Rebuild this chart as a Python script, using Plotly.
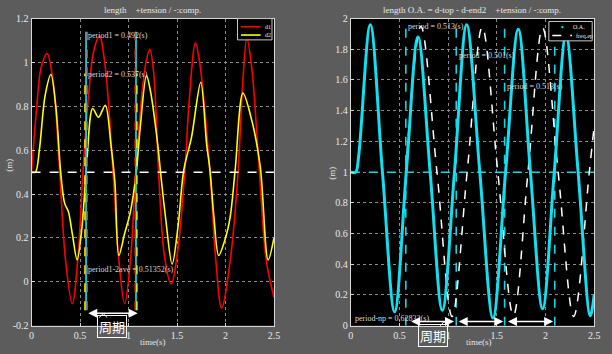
import plotly.graph_objects as go

W, H = 612, 354

# ---------------- data ----------------
# Left panel: d1 (red) and d2 (yellow)
d1_t = [0.00, 0.05, 0.10, 0.16, 0.22, 0.29, 0.35, 0.42, 0.48, 0.53, 0.59, 0.64, 0.70, 0.76, 0.84, 0.90,
        0.96, 1.02, 1.075, 1.13, 1.18, 1.22, 1.26, 1.31, 1.37, 1.44, 1.51, 1.58, 1.63, 1.69, 1.74, 1.84,
        1.90, 1.96, 2.05, 2.13, 2.18, 2.22, 2.27, 2.35, 2.42, 2.50]
d1_v = [0.50, 0.78, 0.98, 1.04, 0.92, 0.50, 0.10, -0.10, 0.12, 0.50, 0.86, 1.05, 1.12, 0.98, 0.50, 0.10,
        -0.10, 0.10, 0.50, 0.82, 1.00, 1.06, 0.95, 0.50, 0.12, -0.01, 0.15, 0.50, 0.85, 1.09, 0.98, 0.50,
        0.10, -0.12, 0.10, 0.50, 0.92, 1.11, 0.98, 0.50, 0.10, -0.07]

d2_t = [0.00, 0.04, 0.08, 0.14, 0.20, 0.25, 0.30, 0.34, 0.38, 0.42, 0.47, 0.52, 0.57, 0.63, 0.69, 0.76,
        0.82, 0.86, 0.90, 0.96, 1.02, 1.08, 1.12, 1.185, 1.23, 1.30, 1.33, 1.38, 1.45, 1.51, 1.57, 1.65,
        1.745, 1.805, 1.84, 1.88, 1.93, 2.00, 2.05, 2.10, 2.18, 2.28, 2.36, 2.44, 2.50]
d2_v = [0.50, 0.50, 0.60, 0.85, 0.945, 0.80, 0.50, 0.36, 0.32, 0.22, 0.10, 0.25, 0.55, 0.79, 0.75, 0.805,
        0.62, 0.45, 0.12, 0.22, 0.32, 0.50, 0.70, 0.94, 0.86, 0.63, 0.50, 0.30, 0.08, 0.25, 0.51, 0.66,
        0.91, 0.63, 0.51, 0.30, 0.12, 0.20, 0.30, 0.51, 0.86, 0.72, 0.52, 0.10, 0.20]

# period markers (left)
cyan_marks_l = [0.562, 1.077]
red_marks_l = [0.575, 1.068]
yellow_marks_l = [0.550, 1.087]

# Right panel: O.A. (cyan) and freq.ep (white dashed)
oa_t = [0.00, 0.05, 0.08, 0.20, 0.325, 0.45, 0.57, 0.69, 0.815, 0.94, 1.065, 1.19, 1.325, 1.46, 1.59,
        1.72, 1.845, 1.97, 2.09, 2.21, 2.335, 2.46, 2.50]
oa_v = [1.00, 1.00, 1.10, 1.96, 1.00, 0.09, 1.00, 1.88, 1.00, 0.10, 1.00, 1.96, 1.00, 0.05, 1.00,
        1.93, 1.00, 0.11, 1.00, 1.89, 1.00, 0.065, 0.20]

ep_t = [0.565, 0.72, 0.885, 1.04, 1.195, 1.35, 1.51, 1.67, 1.82, 1.97, 2.13, 2.29, 2.45, 2.50]
ep_v = [1.00, 1.95, 1.00, 0.06, 1.00, 1.945, 1.00, 0.065, 1.00, 1.94, 1.00, 0.06, 1.00, 1.30]

cyan_marks_r = [0.565, 1.083, 1.580, 2.095]

# ticks
x_ticks = [0, 0.5, 1, 1.5, 2, 2.5]
x_ticktext = ["0", "0.5", "1", "1.5", "2", "2.5"]
yl_ticks = [-0.2, 0, 0.2, 0.4, 0.6, 0.8, 1.0, 1.2]
yl_ticktext = ["-0.2", "0", "0.2", "0.4", "0.6", "0.8", "1", "1.2"]
yr_ticks = [0, 0.2, 0.4, 0.6, 0.8, 1.0, 1.2, 1.4, 1.6, 1.8, 2.0]
yr_ticktext = ["0", "0.2", "0.4", "0.6", "0.8", "1", "1.2", "1.4", "1.6", "1.8", "2"]

# texts
left_title = "length    +tension / -:comp."
right_title = "length O.A. = d-top - d-end2    +tension / -:comp."
left_texts = [(0.56, 1.125, "period1 = 0.492(s)"), (0.56, 0.944, "period2 = 0.537(s)"),
              (0.56, 0.056, "period1-2ave = 0.51352(s)")]
right_texts = [(0.57, 1.95, "period = 0.513(s)"), (1.088, 1.76, "period = 0.501(s)"),
               (1.585, 1.56, "period = 0.513(s)"), (0.02, 0.05, "period-np = 0.62832(s)")]
left_legend = ["d1", "d2"]
right_legend = ["O.A.", "freq.ep"]

# ---------------- helpers ----------------
def px(x):
    return x / W


def py(y):
    return 1 - y / H


SERIF = "Liberation Serif, Times New Roman, serif"
BG = "#5c5c5c"
TXT = "#e8e8e8"

fig = go.Figure()

# left traces
fig.add_trace(go.Scatter(x=d1_t, y=d1_v, mode="lines", line=dict(color="#ff0000", width=1.6, shape="spline"),
                         name=left_legend[0], xaxis="x", yaxis="y"))
fig.add_trace(go.Scatter(x=d2_t, y=d2_v, mode="lines",
                         line=dict(color="#ffff00", width=1.6, shape="spline", smoothing=0.9),
                         name=left_legend[1], xaxis="x", yaxis="y"))
fig.add_trace(go.Scatter(x=[0, 2.5], y=[0.5, 0.5], mode="lines", line=dict(color="white", width=1.5, dash="dash"),
                         xaxis="x", yaxis="y"))
for t in cyan_marks_l:
    fig.add_trace(go.Scatter(x=[t, t], y=[-0.13, 1.14], mode="lines", line=dict(color="#20c8d0", width=1.8),
                             xaxis="x", yaxis="y"))
for t in red_marks_l:
    fig.add_trace(go.Scatter(x=[t, t], y=[-0.13, 1.14], mode="lines",
                             line=dict(color="#ff2020", width=1.3, dash="dash"), xaxis="x", yaxis="y"))
for t in yellow_marks_l:
    fig.add_trace(go.Scatter(x=[t, t], y=[-0.13, 0.95], mode="lines",
                             line=dict(color="#ffff00", width=1.3, dash="dash"), xaxis="x", yaxis="y"))

# right traces
fig.add_trace(go.Scatter(x=[0, 2.5], y=[1, 1], mode="lines", line=dict(color="#10d8e8", width=1.5, dash="dash"),
                         xaxis="x2", yaxis="y2"))
for t in cyan_marks_r:
    fig.add_trace(go.Scatter(x=[t, t], y=[0.0, 1.95], mode="lines",
                             line=dict(color="#10d8e8", width=1.6, dash="dash"), xaxis="x2", yaxis="y2"))
fig.add_trace(go.Scatter(x=ep_t, y=ep_v, mode="lines",
                         line=dict(color="white", width=1.5, dash="dash", shape="spline"),
                         name=right_legend[1], xaxis="x2", yaxis="y2"))
fig.add_trace(go.Scatter(x=oa_t, y=oa_v, mode="lines", line=dict(color="#10e0f0", width=3, shape="spline"),
                         name=right_legend[0], xaxis="x2", yaxis="y2"))

axis_common = dict(showline=True, mirror=True, linecolor="#d8d8d8", linewidth=1,
                   ticks="inside", ticklen=3, tickcolor="#d8d8d8",
                   showgrid=True, gridcolor="#8a8a8a", griddash="dot", gridwidth=1,
                   zeroline=False, tickfont=dict(family=SERIF, size=10, color=TXT))

dom_y = [py(331), py(14)]
fig.update_layout(
    width=W, height=H, margin=dict(l=0, r=0, t=0, b=0),
    paper_bgcolor=BG, plot_bgcolor="black", showlegend=False,
    xaxis=dict(domain=[px(29), px(275)], range=[0, 2.5], tickvals=x_ticks, ticktext=x_ticktext,
               anchor="y", **axis_common),
    yaxis=dict(domain=dom_y, range=[-0.2, 1.2], tickvals=yl_ticks, ticktext=yl_ticktext,
               anchor="x", **axis_common),
    xaxis2=dict(domain=[px(353), px(600)], range=[0, 2.5], tickvals=x_ticks, ticktext=x_ticktext,
                anchor="y2", **axis_common),
    yaxis2=dict(domain=dom_y, range=[0, 2], tickvals=yr_ticks, ticktext=yr_ticktext,
                anchor="x2", **axis_common),
)

ann = []


def ptext(text, x, y, size=9, color=TXT, family=SERIF, xanchor="center", **kw):
    ann.append(dict(text=text, x=px(x), y=py(y), xref="paper", yref="paper", showarrow=False,
                    xanchor=xanchor, yanchor="middle", font=dict(family=family, size=size, color=color), **kw))


# titles
ptext(left_title, 152, 5)
ptext(right_title, 476, 5)
# axis titles
ptext("(m)", 6, 165, textangle=-90)
ptext("(m)", 334, 174, textangle=-90)
ptext("time(s)", 152, 348)
ptext("time(s)", 483, 348)
# period texts
for t, v, s in left_texts:
    ann.append(dict(text=s, x=t, y=v, xref="x", yref="y", showarrow=False, xanchor="left", yanchor="middle",
                    font=dict(family=SERIF, size=8, color="#d8d8d8")))
for t, v, s in right_texts:
    ann.append(dict(text=s, x=t, y=v, xref="x2", yref="y2", showarrow=False, xanchor="left", yanchor="middle",
                    font=dict(family=SERIF, size=8, color="#d8d8d8")))
# double arrows
arrows = [("x", "y", 0.569, 1.094, -0.143),
          ("x2", "y2", 0.604, 1.060, 0.027),
          ("x2", "y2", 1.093, 1.566, 0.027),
          ("x2", "y2", 1.599, 2.078, 0.027)]
for xr, yr, a, b, v in arrows:
    ann.append(dict(x=b, y=v, ax=a, ay=v, xref=xr, yref=yr, axref=xr, ayref=yr, text="", showarrow=True,
                    arrowside="end+start", arrowhead=2, arrowsize=1.2, arrowwidth=1.5, arrowcolor="white"))
# 周期 boxes
for cx, cy in [(111, 332), (436, 341)]:
    ptext("周期", cx, cy, size=13, color="white", family="Noto Sans CJK SC",
          bordercolor="white", borderwidth=1, borderpad=1)

# custom legends
# left
fig.add_shape(type="rect", xref="paper", yref="paper", x0=px(238), x1=px(273), y0=py(36), y1=py(14),
              fillcolor="black", line=dict(color="#c8c8c8", width=1))
fig.add_shape(type="line", xref="paper", yref="paper", x0=px(241.5), x1=px(261.5), y0=py(22.5), y1=py(22.5),
              line=dict(color="#ff0000", width=1.6))
fig.add_shape(type="line", xref="paper", yref="paper", x0=px(241.5), x1=px(261.5), y0=py(31), y1=py(31),
              line=dict(color="#ffff00", width=1.6))
ptext(left_legend[0], 264, 22.5, size=6, xanchor="left")
ptext(left_legend[1], 264, 31, size=6, xanchor="left")
# right
fig.add_shape(type="rect", xref="paper", yref="paper", x0=px(554), x1=px(598), y0=py(37), y1=py(17),
              fillcolor="black", line=dict(color="#c8c8c8", width=1))
fig.add_shape(type="circle", xref="paper", yref="paper", x0=px(566.5), x1=px(568.8), y0=py(24), y1=py(21.7),
              fillcolor="#10e0f0", line=dict(color="#10e0f0", width=0))
fig.add_shape(type="line", xref="paper", yref="paper", x0=px(557.5), x1=px(577.5), y0=py(31.5), y1=py(31.5),
              line=dict(color="white", width=1.5, dash="dash"))
ptext(right_legend[0], 585, 23, size=6)
ptext(right_legend[1], 579.5, 31.5, size=6, xanchor="left")

fig.update_layout(annotations=ann)

# caret marks on the boxes
for cx, cy in [(101.7, 322.5), (447.7, 331)]:
    fig.add_shape(type="path", xref="paper", yref="paper",
                  path=f"M {px(cx-4)},{py(cy)} L {px(cx)},{py(cy-4)} L {px(cx+4)},{py(cy)}",
                  line=dict(color="white", width=1))

fig.write_html("out.html")
